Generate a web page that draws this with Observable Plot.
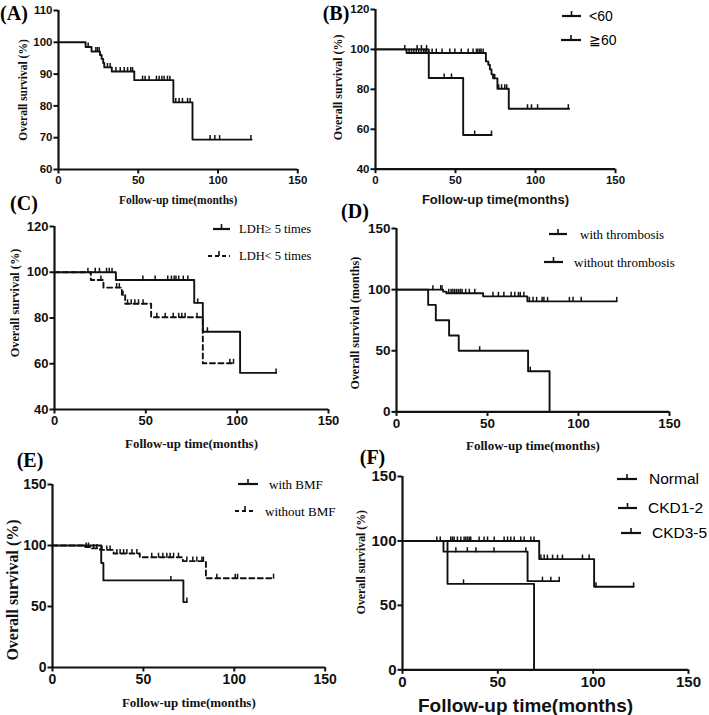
<!DOCTYPE html>
<html><head><meta charset="utf-8">
<script src="https://cdn.jsdelivr.net/npm/d3@7"></script>
<script src="https://cdn.jsdelivr.net/npm/@observablehq/plot@0.6"></script>
<style>
body{margin:0;background:#fff;}
#fig{position:relative;width:709px;height:715px;overflow:hidden;background:#fff;}
.plabel{position:absolute;font-family:"Liberation Serif",serif;font-weight:bold;font-size:20px;transform:translate(-50%,-50%);white-space:nowrap;line-height:1;}
.legline{position:absolute;}
.legtext{position:absolute;white-space:nowrap;transform:translateY(-50%);line-height:1;}
</style></head><body><div id="fig"></div>
<script>
// ---------------- DATA ----------------
const xTicks = [0, 50, 100, 150];
const panelLetters = ["(A)", "(B)", "(C)", "(D)", "(E)", "(F)"];
const xTitle = "Follow-up time(months)";
const yTitles = ["Overall survival (%)", "Overall survival (%)", "Overall survival (%)", "Overall survival (months)", "Overall survival (%)", "Overall survival (%)"];
const yTicksA = [60, 70, 80, 90, 100, 110];
const yTicksB = [40, 60, 80, 100, 120];
const yTicksC = [40, 60, 80, 100, 120];
const yTicksD = [0, 50, 100, 150];
const yTicksE = [0, 50, 100, 150];
const yTicksF = [0, 50, 100, 150];

// (A) all patients
const A_eventTimes = [0, 17, 20.7, 26, 27, 28, 28.7, 33.4, 47.5, 72, 84];
const A_survival   = [100, 98.5, 97.1, 96, 94.8, 93.5, 92.1, 90.8, 88.1, 81.1, 69.4];
const A_censored   = [18.6, 23.4, 24.4, 25.5, 30.7, 32.4, 36, 38.7, 41.2, 43.3, 45.3, 46.4, 52.7, 54.3, 56.8, 61.4, 63.1, 64.8, 66.2, 68.3, 69.8, 73.5, 75.6, 77.7, 80.9, 82.5, 95, 98, 101, 120.6];
const A_lastFollowUp = 121;

// (B) age
const B_labels = ["<60", "≧60"];
const B_lt60_eventTimes = [0, 19.4, 69, 70.5, 71.5, 72.5, 73.5, 76.2, 83.3];
const B_lt60_survival   = [100, 98.2, 94, 92.3, 90, 87.5, 85.5, 80.3, 70.3];
const B_lt60_censored   = [21, 22.5, 24, 25.5, 27, 28.5, 30, 31, 32, 35.4, 38, 41.6, 46.4, 49.6, 53.6, 57.9, 61, 63.1, 64, 65.2, 66, 67.3, 74.5, 77, 78.8, 80.8, 82, 95, 97.5, 101.3, 120.5];
const B_lt60_lastFollowUp = 121;
const B_ge60_eventTimes = [0, 33.3, 54.8];
const B_ge60_survival   = [100, 85.7, 57.1];
const B_ge60_censored   = [18.3, 26, 28.7, 31.9, 42.9, 47.5, 62, 72.5];
const B_ge60_lastFollowUp = 72.5;

// (C) LDH
const C_labels = ["LDH≥ 5 times", "LDH< 5 times"];
const C_high_eventTimes = [0, 33.6, 76.5, 81.2, 101.6];
const C_high_survival   = [100, 96.6, 86.6, 74, 56];
const C_high_censored   = [18.3, 22.3, 24.6, 28.5, 30, 31.5, 48.4, 55.1, 62, 64, 65.5, 66.5, 68, 70.5, 73, 78.4, 83.7, 121.3];
const C_high_lastFollowUp = 121.3;
const C_low_eventTimes = [0, 19.9, 26.8, 36.9, 38.7, 52.9, 81.2];
const C_low_survival   = [100, 96.6, 93.3, 90, 86.2, 80.3, 60.2];
const C_low_censored   = [25.4, 34, 35.5, 37.5, 40, 42, 44, 46, 48.5, 56, 60.6, 65, 68, 69.7, 71.5, 78, 96, 98];
const C_low_lastFollowUp = 98;

// (D) thrombosis
const D_labels = ["with thrombosis", "without thrombosis"];
const D_with_eventTimes = [0, 17.4, 21.6, 28.9, 34.2, 72.3, 84.1];
const D_with_survival   = [100, 87.5, 75, 62.5, 50, 33.3, 0];
const D_with_censored   = [45.7, 73.5];
const D_with_lastFollowUp = 84.1;
const D_without_eventTimes = [0, 25.6, 27.4, 47.6, 71.9];
const D_without_survival   = [100, 98.4, 97, 94.5, 90.4];
const D_without_censored   = [20, 24.3, 25, 28.7, 30, 31, 32, 33, 34, 35, 36, 38, 40, 43, 53, 56, 59, 63, 65, 67, 68, 70, 73, 75, 77, 80, 81, 83, 95, 97, 101.5, 121];
const D_without_lastFollowUp = 121;

// (E) bone marrow failure
const E_labels = ["with BMF", "without BMF"];
const E_with_eventTimes = [0, 26.8, 28, 72];
const E_with_survival   = [100, 85.7, 71.4, 53.6];
const E_with_censored   = [65.1, 73.9];
const E_with_lastFollowUp = 73.9;
const E_without_eventTimes = [0, 18, 21.6, 26.2, 33.6, 48, 71.7, 84.4];
const E_without_survival   = [100, 98.8, 97.6, 96.4, 93.4, 90.4, 87.2, 73.2];
const E_without_censored   = [18.5, 19.8, 22.6, 24.4, 27.2, 29.9, 31.7, 35.4, 37.2, 39.1, 40.9, 43.7, 46.4, 54.6, 58.3, 60.7, 62.9, 64.7, 66.6, 69.3, 73.9, 77.2, 79.4, 82.2, 83, 90.4, 100.5, 101.8, 121.6];
const E_without_lastFollowUp = 121.6;

// (F) renal function
const F_labels = ["Normal", "CKD1-2", "CKD3-5"];
const F_normal_eventTimes = [0, 71.7, 100.5];
const F_normal_survival   = [100, 85.9, 64.4];
const F_normal_censored   = [18, 19.8, 25.3, 26.2, 27.1, 28.8, 30.6, 32.3, 33.2, 34.1, 35, 35.8, 40.2, 42.8, 44.6, 48.1, 53.3, 55.1, 56.8, 58.6, 62, 63.8, 67.3, 69, 72.6, 74.3, 76, 78.7, 81.3, 83.9, 94.4, 97.9, 101.5, 121.2];
const F_normal_lastFollowUp = 121.2;
const F_ckd12_eventTimes = [0, 21.5, 65.6];
const F_ckd12_survival   = [100, 91.7, 68.8];
const F_ckd12_censored   = [28, 34, 38.5, 48, 64.7, 73.4, 77.8, 82.2];
const F_ckd12_lastFollowUp = 82.2;
const F_ckd35_eventTimes = [0, 23.6, 69];
const F_ckd35_survival   = [100, 66.7, 0];
const F_ckd35_censored   = [32];
const F_ckd35_lastFollowUp = 69;

// ---------------- HELPERS ----------------
const SANS = "Liberation Sans, Arial, sans-serif";
const SERIF = "Liberation Serif, Times New Roman, serif";
const INK = "#111";

function series(T, S, C, end, dash) { return {T, S, C, end, dash}; }
function stepPoints(s) {
  const pts = s.T.map((t, i) => ({t, s: s.S[i]}));
  if (s.end > s.T[s.T.length - 1]) pts.push({t: s.end, s: s.S[s.S.length - 1]});
  return pts;
}
function levelAt(s, t) {
  let v = s.S[0];
  for (let i = 0; i < s.T.length; i++) if (s.T[i] <= t) v = s.S[i];
  return v;
}
function censorPoints(s) { return s.C.map(t => ({t, s: levelAt(s, t)})); }
const tickSym = {draw(ctx) { ctx.moveTo(0, 0.5); ctx.lineTo(0, -4.5); }};

const fig = document.getElementById("fig");

function panel(cfg) {
  const ml = 70, mt = 30, mr = 30, mb = 60;
  const w = cfg.fx[1] - cfg.fx[0], h = cfg.fy[1] - cfg.fy[0];
  const marks = [];
  cfg.series.forEach(s => {
    marks.push(Plot.line(stepPoints(s), {x: "t", y: "s", curve: "step-after", stroke: INK, strokeWidth: 1.9,
      strokeDasharray: s.dash ? "5,3.5" : null}));
    marks.push(Plot.dot(censorPoints(s), {x: "t", y: "s", symbol: tickSym, r: 3, stroke: INK, strokeWidth: 1.5, fill: "none"}));
  });
  const svg = Plot.plot({
    width: w + ml + mr, height: h + mt + mb,
    marginLeft: ml, marginRight: mr, marginTop: mt, marginBottom: mb,
    x: {domain: [0, 150]},
    y: {domain: [cfg.yTicks[0], cfg.yTicks[cfg.yTicks.length - 1]]},
    style: {background: "transparent", overflow: "visible", color: INK},
    marks: [
      Plot.axisX({ticks: xTicks, tickSize: 4.5, tickPadding: 2, label: null, strokeWidth: 2,
        fontFamily: SANS, fontWeight: "bold", fontSize: cfg.tickFont}),
      Plot.axisY({ticks: cfg.yTicks, tickSize: 4.5, tickPadding: 1.5, label: null, strokeWidth: 2,
        fontFamily: SANS, fontWeight: "bold", fontSize: cfg.tickFont}),
      Plot.ruleY([cfg.yTicks[0]], {stroke: INK, strokeWidth: 2.2}),
      Plot.ruleX([0], {stroke: INK, strokeWidth: 2.2}),
      ...marks,
      Plot.text([xTitle], {text: d => d, frameAnchor: "bottom", lineAnchor: "middle", dx: cfg.xTitleDx || 0, dy: cfg.xTitleDy,
        fontFamily: cfg.xTitleFamily, fontWeight: "bold", fontSize: cfg.xTitleSize, fill: INK}),
      Plot.text([cfg.yTitle], {text: d => d, frameAnchor: "left", rotate: -90, textAnchor: "middle", lineAnchor: "middle",
        dx: cfg.yTitleDx, dy: cfg.yTitleDy || 0, fontFamily: SERIF, fontWeight: "bold", fontSize: cfg.yTitleSize, fill: INK})
    ]
  });
  svg.style.position = "absolute";
  svg.style.left = (cfg.fx[0] - ml) + "px";
  svg.style.top = (cfg.fy[0] - mt) + "px";
  svg.style.maxWidth = "none";
  fig.appendChild(svg);

  const lab = document.createElement("div");
  lab.className = "plabel";
  lab.textContent = cfg.letter;
  lab.style.left = cfg.letterPos[0] + "px";
  lab.style.top = cfg.letterPos[1] + "px";
  fig.appendChild(lab);

  (cfg.legend || []).forEach((it, i) => {
    const lw = it.x1 - it.x0;
    const s = d3.create("svg").attr("class", "legline").attr("width", lw).attr("height", 12)
      .style("left", it.x0 + "px").style("top", (it.y - 8) + "px");
    s.append("line").attr("x1", 0).attr("x2", lw).attr("y1", 8).attr("y2", 8)
      .attr("stroke", INK).attr("stroke-width", 2.2).attr("stroke-dasharray", it.dash ? "4,3" : null);
    s.append("line").attr("x1", lw / 2).attr("x2", lw / 2).attr("y1", 8).attr("y2", 3)
      .attr("stroke", INK).attr("stroke-width", 1.6);
    fig.appendChild(s.node());
    const tx = document.createElement("div");
    tx.className = "legtext";
    tx.textContent = cfg.legendLabels[i];
    tx.style.left = it.tx + "px";
    tx.style.top = it.y + "px";
    tx.style.fontFamily = cfg.legendFamily;
    tx.style.fontSize = cfg.legendSize + "px";
    fig.appendChild(tx);
  });
}

panel({letter: panelLetters[0], letterPos: [14, 13], fx: [57.7, 297], fy: [10, 169], yTicks: yTicksA, tickFont: 11.5,
  series: [series(A_eventTimes, A_survival, A_censored, A_lastFollowUp)],
  xTitleDy: 31, xTitleFamily: SERIF, xTitleSize: 11.5, yTitle: yTitles[0], yTitleDx: -35, yTitleSize: 11.5});

panel({letter: panelLetters[1], letterPos: [336, 13], fx: [374.7, 614.7], fy: [9.3, 169], yTicks: yTicksB, tickFont: 11.5,
  series: [series(B_lt60_eventTimes, B_lt60_survival, B_lt60_censored, B_lt60_lastFollowUp),
           series(B_ge60_eventTimes, B_ge60_survival, B_ge60_censored, B_ge60_lastFollowUp)],
  xTitleDy: 31, xTitleFamily: SANS, xTitleSize: 13, yTitle: yTitles[1], yTitleDx: -37, yTitleDy: -2, yTitleSize: 12,
  legendLabels: B_labels, legendFamily: SANS, legendSize: 14,
  legend: [{x0: 562, x1: 581, y: 16, tx: 589}, {x0: 561, x1: 581, y: 40, tx: 589}]});

panel({letter: panelLetters[2], letterPos: [24, 203], fx: [54.3, 328.3], fy: [226, 409], yTicks: yTicksC, tickFont: 13,
  series: [series(C_high_eventTimes, C_high_survival, C_high_censored, C_high_lastFollowUp),
           series(C_low_eventTimes, C_low_survival, C_low_censored, C_low_lastFollowUp, true)],
  xTitleDy: 34, xTitleFamily: SERIF, xTitleSize: 12.9, yTitle: yTitles[2], yTitleDx: -39, yTitleDy: -15, yTitleSize: 12.3,
  legendLabels: C_labels, legendFamily: SERIF, legendSize: 12.5,
  legend: [{x0: 213, x1: 230, y: 229, tx: 239}, {x0: 208, x1: 230, y: 256, tx: 239, dash: true}]});

panel({letter: panelLetters[3], letterPos: [355, 211], fx: [396, 669], fy: [228.3, 411.7], yTicks: yTicksD, tickFont: 13.5,
  series: [series(D_with_eventTimes, D_with_survival, D_with_censored, D_with_lastFollowUp),
           series(D_without_eventTimes, D_without_survival, D_without_censored, D_without_lastFollowUp)],
  xTitleDy: 34, xTitleFamily: SERIF, xTitleSize: 13, yTitle: yTitles[3], yTitleDx: -41, yTitleDy: 3, yTitleSize: 12.1,
  legendLabels: D_labels, legendFamily: SERIF, legendSize: 13,
  legend: [{x0: 549, x1: 567, y: 234, tx: 580}, {x0: 544, x1: 563, y: 262, tx: 574}]});

panel({letter: panelLetters[4], letterPos: [30, 460], fx: [52.3, 325], fy: [484, 667], yTicks: yTicksE, tickFont: 14,
  series: [series(E_with_eventTimes, E_with_survival, E_with_censored, E_with_lastFollowUp),
           series(E_without_eventTimes, E_without_survival, E_without_censored, E_without_lastFollowUp, true)],
  xTitleDy: 35, xTitleFamily: SERIF, xTitleSize: 13, yTitle: yTitles[4], yTitleDx: -40, yTitleDy: 14, yTitleSize: 16,
  legendLabels: E_labels, legendFamily: SERIF, legendSize: 13,
  legend: [{x0: 238, x1: 258, y: 484, tx: 269}, {x0: 235, x1: 255, y: 511, tx: 265, dash: true}]});

panel({letter: panelLetters[5], letterPos: [372.5, 457], fx: [402.3, 688.3], fy: [475.7, 669], yTicks: yTicksF, tickFont: 15,
  series: [series(F_normal_eventTimes, F_normal_survival, F_normal_censored, F_normal_lastFollowUp),
           series(F_ckd12_eventTimes, F_ckd12_survival, F_ckd12_censored, F_ckd12_lastFollowUp),
           series(F_ckd35_eventTimes, F_ckd35_survival, F_ckd35_censored, F_ckd35_lastFollowUp)],
  xTitleDy: 36, xTitleDx: -20, xTitleFamily: SANS, xTitleSize: 19, yTitle: yTitles[5], yTitleDx: -41, yTitleDy: -11, yTitleSize: 11.8,
  legendLabels: F_labels, legendFamily: SANS, legendSize: 15.5,
  legend: [{x0: 617, x1: 637, y: 479, tx: 649}, {x0: 618, x1: 637, y: 508, tx: 648}, {x0: 621, x1: 641, y: 533, tx: 652}]});
</script></body></html>
